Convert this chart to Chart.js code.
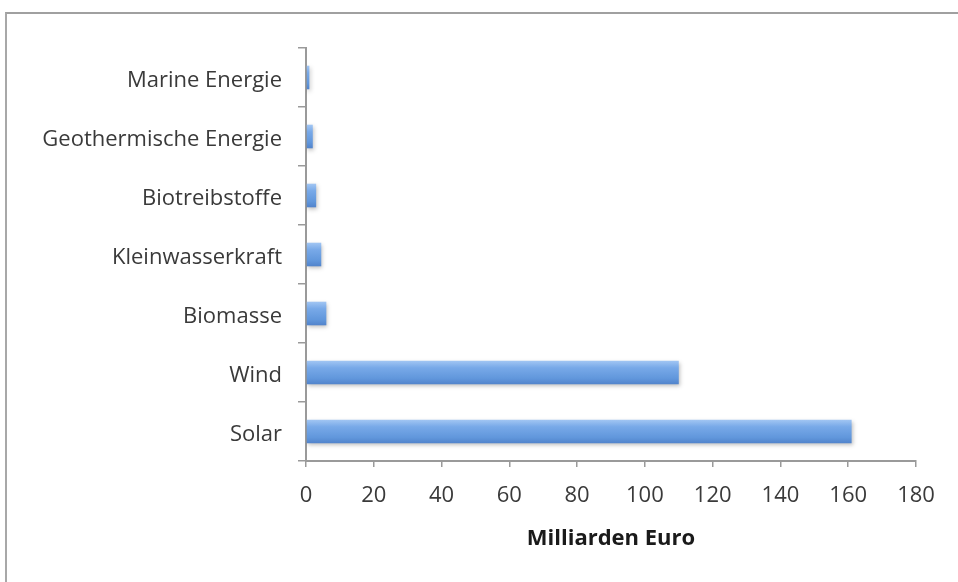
<!DOCTYPE html>
<html>
<head>
<meta charset="utf-8">
<script src="https://cdn.jsdelivr.net/npm/chart.js@4/dist/chart.umd.min.js"></script>
<style>
  html, body { margin: 0; padding: 0; background: #fff; }
  #wrap { position: relative; width: 958px; height: 582px; overflow: hidden; }
  #frame { position: absolute; left: 5px; top: 12px; width: 1000px; height: 600px;
           border-top: 2px solid #a0a0a0; border-left: 2px solid #a8a8a8; }
  #c { position: absolute; left: 0; top: 0; }
</style>
</head>
<body>
<div id="wrap">
  <div id="frame"></div>
  <canvas id="c" width="958" height="582"></canvas>
</div>
<script>
const categories = ["Marine Energie", "Geothermische Energie", "Biotreibstoffe", "Kleinwasserkraft", "Biomasse", "Wind", "Solar"];
const values = [1, 2, 3, 4.5, 6, 110, 161];
const xTicks = [0, 20, 40, 60, 80, 100, 120, 140, 160, 180];
const axisTitle = "Milliarden Euro";

const BAR_PCT = 0.4;

function barFill(ctx) {
  const chart = ctx.chart;
  const ys = chart.scales && chart.scales.y;
  if (!ys || !chart.chartArea || ctx.dataIndex === undefined) return '#6d9fe2';
  const y = ys.getPixelForValue(ctx.dataIndex);
  const h = (ys.height / categories.length) * BAR_PCT;
  const g = chart.ctx.createLinearGradient(0, y - h / 2, 0, y + h / 2);
  g.addColorStop(0, '#a2c6f3');
  g.addColorStop(0.3, '#78a9e8');
  g.addColorStop(0.75, '#6197dc');
  g.addColorStop(1, '#5183cb');
  return g;
}

const barShadow = {
  id: 'barShadow',
  beforeDatasetsDraw(chart) {
    const ctx = chart.ctx;
    ctx.save();
    ctx.shadowColor = 'rgba(0,0,0,0.25)';
    ctx.shadowBlur = 4;
    ctx.shadowOffsetX = 1;
    ctx.shadowOffsetY = 2;
  },
  afterDatasetsDraw(chart) {
    chart.ctx.restore();
  }
};

const FONT = 'Open Sans';

new Chart(document.getElementById('c'), {
  type: 'bar',
  data: {
    labels: categories,
    datasets: [{
      data: values,
      backgroundColor: barFill,
      borderWidth: 0,
      barPercentage: BAR_PCT,
      categoryPercentage: 1.0
    }]
  },
  plugins: [barShadow],
  options: {
    indexAxis: 'y',
    responsive: false,
    animation: false,
    layout: { padding: { left: 0, right: 42, top: 48, bottom: 0 } },
    plugins: { legend: { display: false }, tooltip: { enabled: false } },
    scales: {
      x: {
        min: 0, max: 180,
        afterBuildTicks(scale) { scale.ticks = xTicks.map(v => ({ value: v })); },
        afterFit(scale) { scale.height = 121; },
        grid: { drawOnChartArea: false, drawTicks: true, tickLength: 6, color: '#9a9a9a', lineWidth: 1.5 },
        border: { color: '#9a9a9a', width: 2 },
        ticks: { color: '#3a3a3a', font: { family: FONT, size: 22 }, padding: 16, maxRotation: 0 },
        title: { display: true, text: axisTitle, color: '#1a1a1a',
                 font: { family: FONT, size: 22, weight: 'bold' }, padding: { top: 0, bottom: 30 } }
      },
      y: {
        afterFit(scale) { scale.width = 306; },
        grid: { drawOnChartArea: false, offset: true, tickLength: 8, color: '#9a9a9a', lineWidth: 1.5 },
        border: { color: '#9a9a9a', width: 2 },
        ticks: { color: '#3a3a3a', font: { family: FONT, size: 22 }, padding: 16, labelOffset: 3 }
      }
    }
  }
});
</script>
</body>
</html>
